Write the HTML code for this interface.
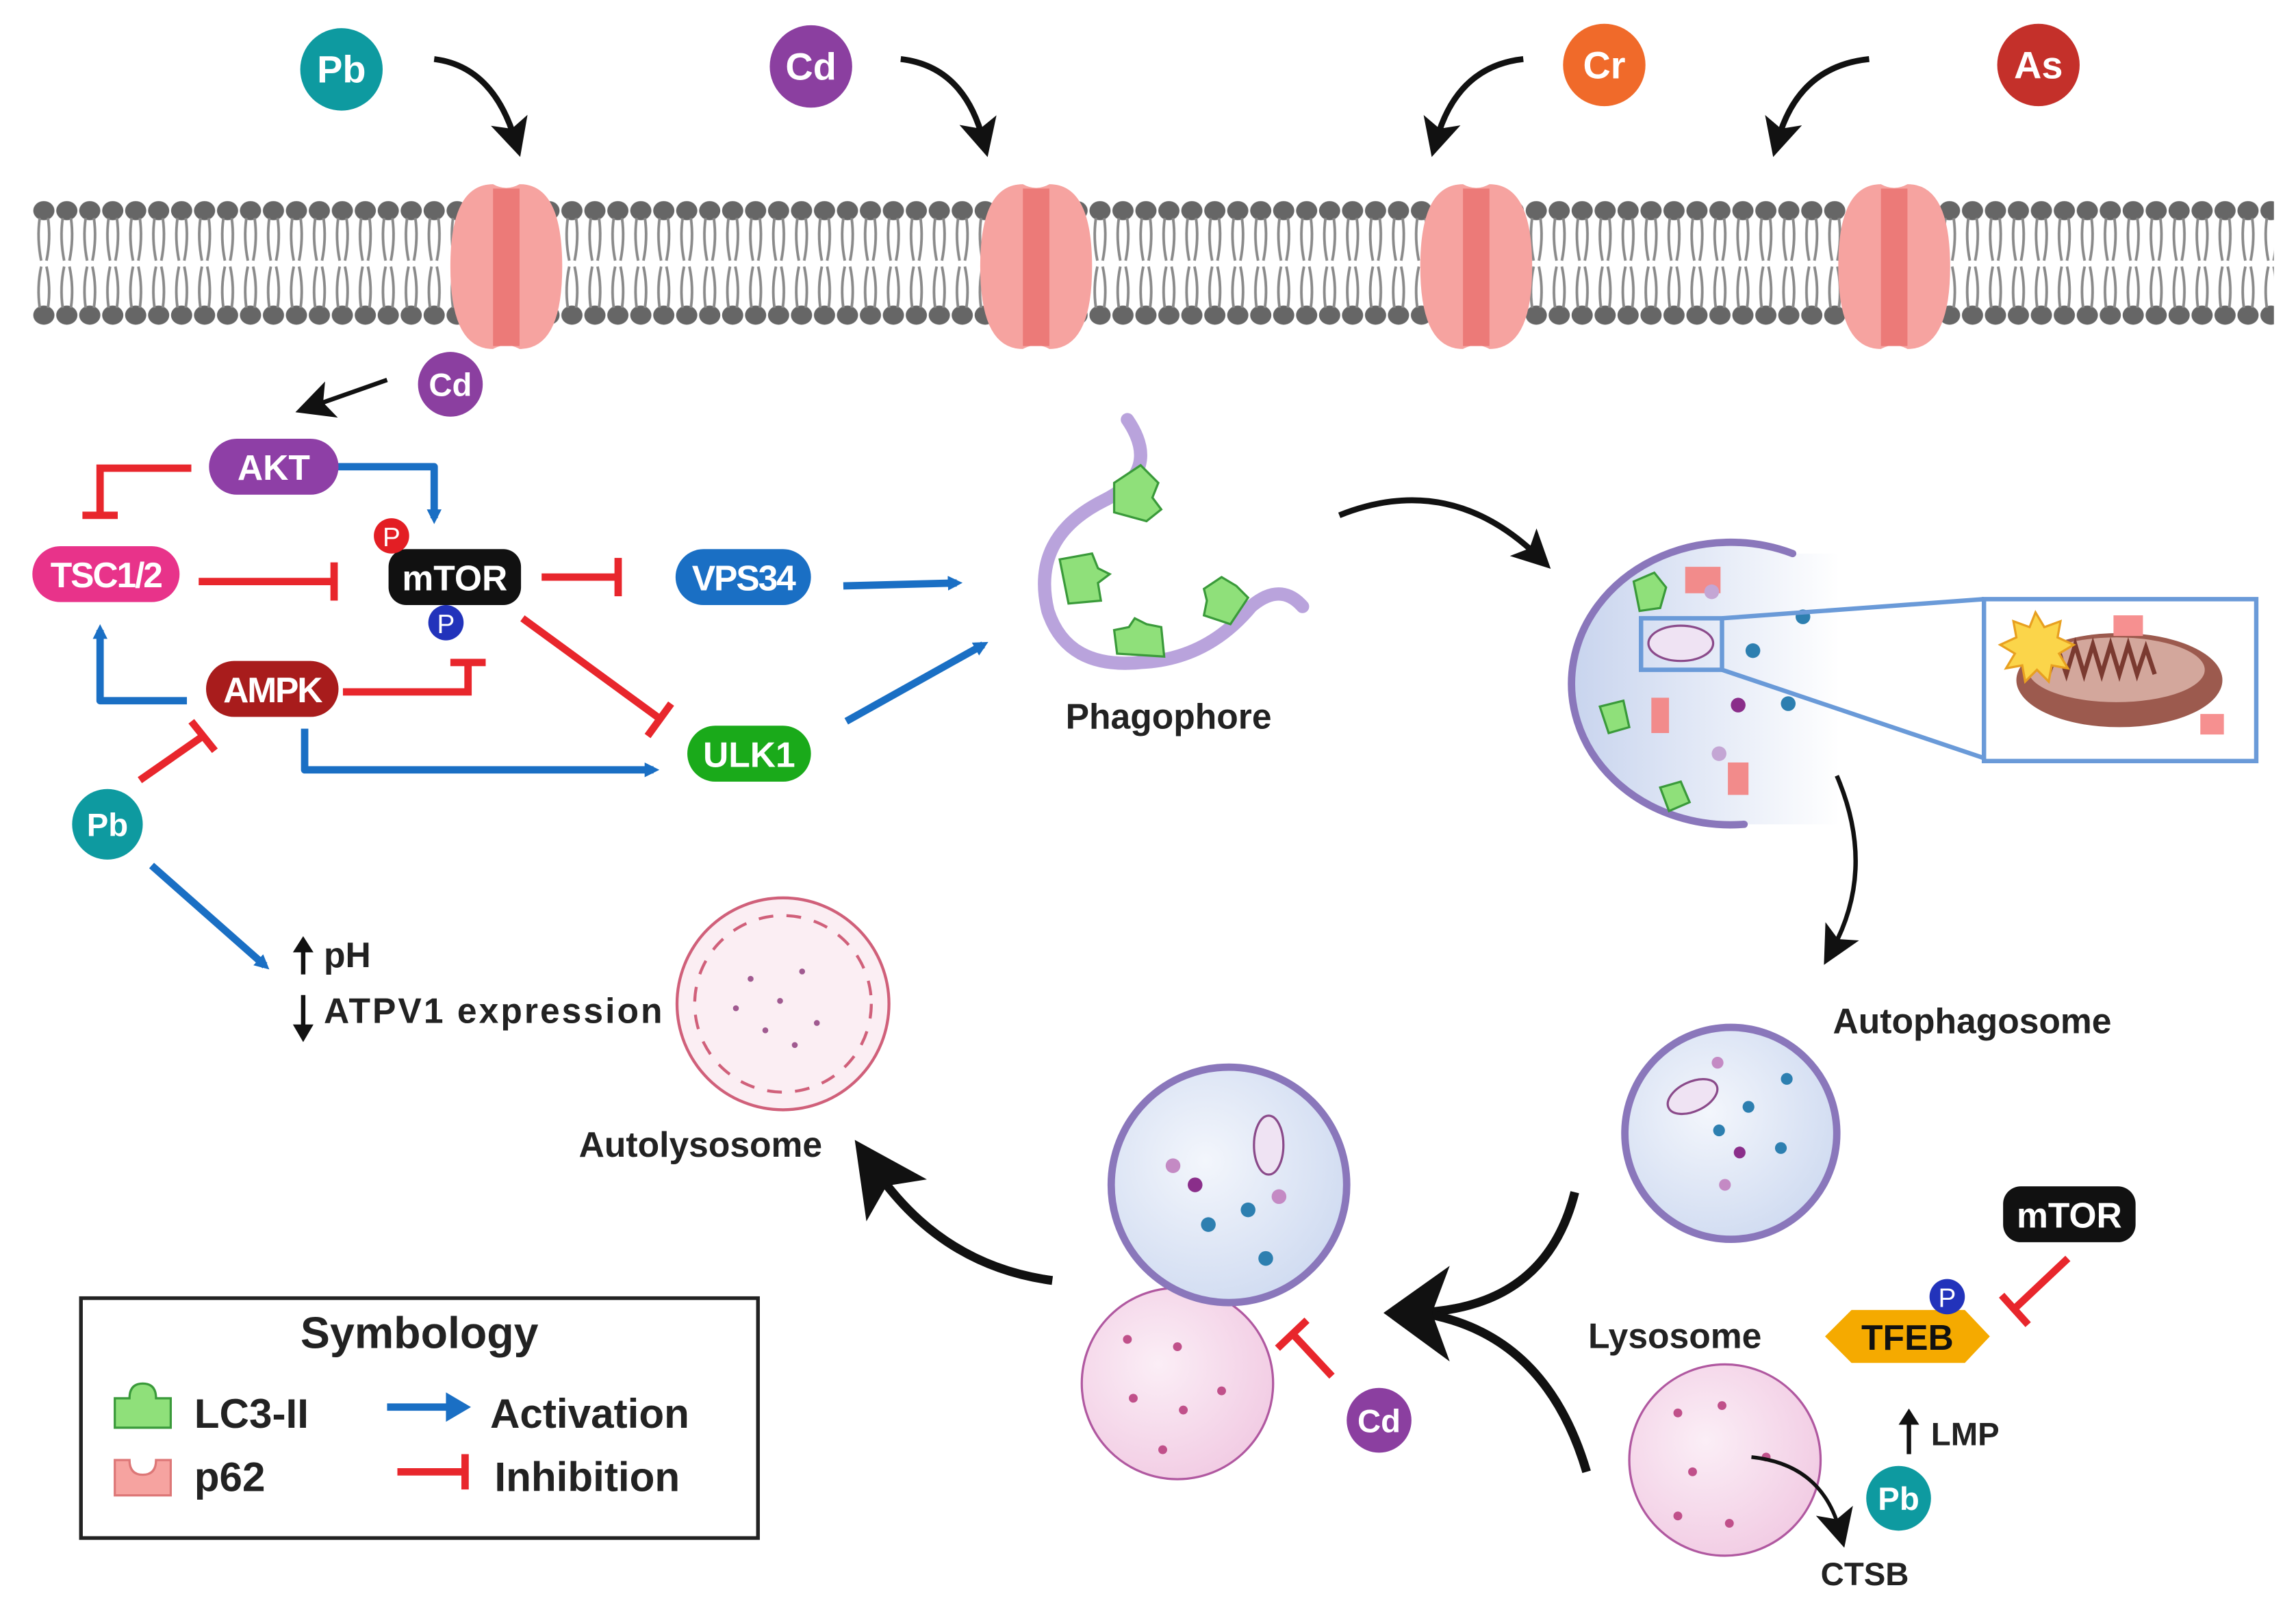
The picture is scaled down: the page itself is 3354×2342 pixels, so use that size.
<!DOCTYPE html>
<html><head><meta charset="utf-8"><style>
html,body{margin:0;padding:0;background:#fff;}
svg{display:block}
text{font-family:"Liberation Sans",Arial,sans-serif;font-weight:bold;}
</style></head><body>
<svg width="3354" height="2342" viewBox="0 0 1560 1089" xmlns="http://www.w3.org/2000/svg">
<defs>
<pattern id="lip" x="22" y="0" width="15.6" height="240" patternUnits="userSpaceOnUse">
<ellipse cx="7.8" cy="143" rx="7.2" ry="6.5" fill="#666"/>
<ellipse cx="7.8" cy="214" rx="7.2" ry="6.5" fill="#666"/>
<path d="M5 148 Q3 162 6 177 M10.6 148 Q12.6 162 9.6 177 M6 181 Q3 195 5 209 M9.6 181 Q12.6 195 10.6 209" stroke="#8a8a8a" stroke-width="1.8" fill="none"/>
</pattern>
<marker id="ab" markerWidth="10" markerHeight="10" refX="6" refY="5" orient="auto" markerUnits="userSpaceOnUse" viewBox="0 0 10 10"><path d="M0 0 L10 5 L0 10 z" fill="#1a6fc4"/></marker>
<marker id="ak" markerWidth="26" markerHeight="26" refX="14" refY="13" orient="auto" markerUnits="userSpaceOnUse" viewBox="0 0 26 26"><path d="M0 0 L26 13 L0 26 L6 13 z" fill="#111"/></marker>
<marker id="akb" markerWidth="50" markerHeight="50" refX="25" refY="25" orient="auto" markerUnits="userSpaceOnUse" viewBox="0 0 50 50"><path d="M0 0 L50 25 L0 50 L12 25 z" fill="#111"/></marker>
<radialGradient id="ves" cx="0.4" cy="0.4" r="0.7"><stop offset="0" stop-color="#f3f6fc"/><stop offset="1" stop-color="#cdd9f0"/></radialGradient>
<linearGradient id="ves2" x1="0" x2="1" y1="0" y2="0"><stop offset="0" stop-color="#c8d4ee"/><stop offset="1" stop-color="#ffffff"/></linearGradient>
<radialGradient id="lys" cx="0.4" cy="0.4" r="0.7"><stop offset="0" stop-color="#fbeef6"/><stop offset="1" stop-color="#f1c9e2"/></radialGradient>
</defs>

<!-- membrane -->
<rect x="22" y="130" width="1523" height="95" fill="url(#lip)"/>
<g fill="#f6a3a0">
<path d="M306 181 Q306 125 335 125 Q344 130 353 125 Q382 125 382 181 Q382 237 353 237 Q344 232 335 237 Q306 237 306 181z"/>
<path d="M666 181 Q666 125 695 125 Q704 130 713 125 Q742 125 742 181 Q742 237 713 237 Q704 232 695 237 Q666 237 666 181z"/>
<path d="M965 181 Q965 125 994 125 Q1003 130 1012 125 Q1041 125 1041 181 Q1041 237 1012 237 Q1003 232 994 237 Q965 237 965 181z"/>
<path d="M1249 181 Q1249 125 1278 125 Q1287 130 1296 125 Q1325 125 1325 181 Q1325 237 1296 237 Q1287 232 1278 237 Q1249 237 1249 181z"/>
</g>
<g fill="#ec7a78">
<rect x="335" y="128" width="18" height="107"/><rect x="695" y="128" width="18" height="107"/>
<rect x="994" y="128" width="18" height="107"/><rect x="1278" y="128" width="18" height="107"/>
</g>

<!-- metals -->
<g font-size="26" fill="#fff" text-anchor="middle">
<circle cx="232" cy="47" r="28" fill="#0e9aa0"/><text x="232" y="56">Pb</text>
<circle cx="551" cy="45" r="28" fill="#8b3fa0"/><text x="551" y="54">Cd</text>
<circle cx="1090" cy="44" r="28" fill="#f06a2a"/><text x="1090" y="53">Cr</text>
<circle cx="1385" cy="44" r="28" fill="#c4302a"/><text x="1385" y="53">As</text>
</g>
<g stroke="#111" stroke-width="4" fill="none" marker-end="url(#ak)">
<path d="M295 40 Q335 45 350 95"/>
<path d="M612 40 Q655 45 668 95"/>
<path d="M1035 40 Q990 45 976 95"/>
<path d="M1270 40 Q1222 45 1208 95"/>
</g>

<circle cx="306" cy="261" r="22" fill="#8b3fa0"/><text x="306" y="269" font-size="22" fill="#fff" text-anchor="middle">Cd</text>
<path d="M263 258 L212 276" stroke="#111" stroke-width="3" marker-end="url(#ak)"/>

<!-- pathway lines -->
<g stroke="#e8262c" stroke-width="5" fill="none">
<path d="M130 318 L68 318 L68 350 M56 350 L80 350"/>
<path d="M135 395 L225 395 M227 382 L227 408"/>
<path d="M368 392 L418 392 M420 379 L420 405"/>
<path d="M355 420 L448 488 M440 500 L456 478"/>
<path d="M233 470 L318 470 L318 452 M306 450 L330 450"/>
<path d="M95 530 L138 500 M130 490 L146 510"/>
<path d="M1405 855 L1370 888 M1360 880 L1378 900"/>
<path d="M905 935 L878 906 M868 916 L888 897"/>
</g>
<g stroke="#1a6fc4" stroke-width="5" fill="none" marker-end="url(#ab)" stroke-linejoin="round">
<path d="M208 317 L295 317 L295 352"/>
<path d="M127 476 L68 476 L68 428"/>
<path d="M207 495 L207 523 L444 523"/>
<path d="M573 398 L650 396"/>
<path d="M575 490 L668 438"/>
<path d="M103 588 L180 656"/>
</g>

<!-- nodes -->
<g font-size="24" fill="#fff" text-anchor="middle">
<rect x="142" y="298" width="88" height="38" rx="19" fill="#8e3fa6"/><text x="186" y="326">AKT</text>
<rect x="22" y="371" width="100" height="38" rx="19" fill="#e8338a"/><text x="72" y="399" letter-spacing="-1">TSC1/2</text>
<rect x="264" y="373" width="90" height="38" rx="12" fill="#111"/><text x="309" y="401">mTOR</text>
<rect x="459" y="373" width="92" height="38" rx="19" fill="#1a6fc4"/><text x="505" y="401" letter-spacing="-1">VPS34</text>
<rect x="140" y="449" width="90" height="38" rx="19" fill="#a81c1c"/><text x="185" y="477" letter-spacing="-1">AMPK</text>
<rect x="467" y="493" width="84" height="38" rx="19" fill="#1aaa1a"/><text x="509" y="521">ULK1</text>
<rect x="1361" y="806" width="90" height="38" rx="12" fill="#111"/><text x="1406" y="834">mTOR</text>
</g>
<g font-size="18" fill="#fff" text-anchor="middle">
<circle cx="266" cy="364" r="12" fill="#e31e24"/><text x="266" y="371" style="font-weight:normal">P</text>
<circle cx="303" cy="423" r="12" fill="#2233bb"/><text x="303" y="430" style="font-weight:normal">P</text>
</g>
<circle cx="73" cy="560" r="24" fill="#0e9aa0"/><text x="73" y="568" font-size="22" fill="#fff" text-anchor="middle">Pb</text>

<text x="220" y="657" font-size="24" fill="#222">pH</text>
<path d="M206 662 L206 645" stroke="#111" stroke-width="3"/><path d="M199 647 L206 636 L213 647z" fill="#111"/>
<text x="220" y="695" font-size="24" fill="#222" textLength="230">ATPV1 expression</text>
<path d="M206 676 L206 698" stroke="#111" stroke-width="3"/><path d="M199 696 L206 708 L213 696z" fill="#111"/>

<!-- autolysosome -->
<circle cx="532" cy="682" r="72" fill="#fbeef3" stroke="#d0607a" stroke-width="2"/>
<circle cx="532" cy="682" r="60" fill="none" stroke="#d0607a" stroke-width="2" stroke-dasharray="10 9"/>
<g fill="#a05a90"><circle cx="510" cy="665" r="2"/><circle cx="530" cy="680" r="2"/><circle cx="545" cy="660" r="2"/><circle cx="520" cy="700" r="2"/><circle cx="555" cy="695" r="2"/><circle cx="500" cy="685" r="2"/><circle cx="540" cy="710" r="2"/></g>
<text x="476" y="786" font-size="24" fill="#222" text-anchor="middle">Autolysosome</text>

<!-- phagophore -->
<path d="M766 285 Q790 320 750 340 Q700 365 712 415 Q725 455 775 450 Q820 448 850 412 Q870 395 885 412" stroke="#b9a3dc" stroke-width="9" fill="none" stroke-linecap="round"/>
<g fill="#8fe07a" stroke="#3a9a3a" stroke-width="1.5">
<path d="M757 328 l18 -12 l12 12 l-4 10 l6 8 l-10 8 l-22 -6z"/>
<path d="M720 380 l22 -4 l4 10 l8 4 l-8 6 l2 12 l-22 2z"/>
<path d="M757 428 l10 -2 l4 -6 l8 4 l10 2 l2 20 l-32 -2z"/>
<path d="M818 400 l12 -8 l10 6 l8 8 l-12 18 l-18 -6 l2 -10z"/>
</g>
<text x="794" y="495" font-size="24" fill="#222" text-anchor="middle">Phagophore</text>

<path d="M910 350 Q985 320 1045 378" stroke="#111" stroke-width="4" fill="none" marker-end="url(#ak)"/>

<!-- forming autophagosome -->
<path d="M1218 376 A108 96 0 1 0 1185 560 L1250 560 L1250 376z" fill="url(#ves2)" stroke="none"/>
<path d="M1218 376 A108 96 0 1 0 1185 560" fill="none" stroke="#8a77bb" stroke-width="5" stroke-linecap="round"/>
<g fill="#8fe07a" stroke="#3a9a3a" stroke-width="1.5">
<path d="M1110 395 l14 -6 l8 10 l-4 14 l-14 2z"/><path d="M1087 480 l16 -4 l4 18 l-14 4z"/><path d="M1128 535 l14 -4 l6 14 l-14 6z"/>
</g>
<g fill="#f28b8b"><path d="M1145 385 h24 v18 h-24z"/><path d="M1122 474 h12 v24 h-12z"/><path d="M1174 518 h14 v22 h-14z"/></g>
<g fill="#2d7fb0"><circle cx="1191" cy="442" r="5"/><circle cx="1225" cy="419" r="5"/><circle cx="1215" cy="478" r="5"/></g>
<circle cx="1181" cy="479" r="5" fill="#8a2e8a"/><circle cx="1163" cy="402" r="5" fill="#c4a6d4"/><circle cx="1168" cy="512" r="5" fill="#c4a6d4"/>
<ellipse cx="1142" cy="437" rx="22" ry="12" fill="#efe3f3" stroke="#8a4a8a" stroke-width="1.5"/>
<g stroke="#6a9ad8" stroke-width="3" fill="none">
<rect x="1115" y="420" width="55" height="35"/>
<path d="M1170 420 L1348 407 M1170 455 L1348 515"/>
<rect x="1348" y="407" width="185" height="110" fill="#fff"/>
</g>
<ellipse cx="1440" cy="462" rx="70" ry="32" fill="#9c5a4e"/>
<ellipse cx="1438" cy="455" rx="60" ry="22" fill="#d3a79c"/>
<path d="M1392 458 l6 -18 l6 18 l6 -20 l6 20 l6 -20 l6 20 l6 -20 l6 20 l6 -20 l6 20 l6 -18 l6 18" stroke="#7a3a30" stroke-width="3" fill="none"/>
<path d="M1383 416 l6 10 l11 -4 l-2 11 l11 5 l-10 6 l6 10 l-11 -2 l-2 11 l-8 -8 l-8 8 l-2 -11 l-11 2 l6 -10 l-10 -6 l11 -5 l-2 -11 l11 4z" fill="#fbd54a" stroke="#e8a020" stroke-width="1.5"/>
<path d="M1436 418 h20 v14 h-20z M1495 485 h16 v14 h-16z" fill="#f69090"/>

<path d="M1248 527 Q1275 590 1245 645" stroke="#111" stroke-width="3" fill="none" marker-end="url(#ak)"/>
<text x="1340" y="702" font-size="24" fill="#222" text-anchor="middle">Autophagosome</text>

<!-- autophagosome -->
<circle cx="1176" cy="770" r="72" fill="url(#ves)" stroke="#8a77bb" stroke-width="5"/>
<g fill="#2d7fb0"><circle cx="1214" cy="733" r="4"/><circle cx="1188" cy="752" r="4"/><circle cx="1210" cy="780" r="4"/><circle cx="1168" cy="768" r="4"/></g>
<g fill="#c48ac4"><circle cx="1167" cy="722" r="4"/><circle cx="1172" cy="805" r="4"/><circle cx="1182" cy="783" r="4" fill="#8a2e8a"/></g>
<ellipse cx="1150" cy="745" rx="18" ry="10" fill="#efe3f3" stroke="#8a4a8a" stroke-width="1.5" transform="rotate(-25 1150 745)"/>

<!-- big arrows -->
<path d="M1070 810 Q1050 890 960 892" stroke="#111" stroke-width="6" fill="none"/>
<path d="M1078 1000 Q1050 905 965 892" stroke="#111" stroke-width="6" fill="none"/>
<path d="M940 892 L985 860 L973 892 L985 925z" fill="#111"/>
<path d="M715 870 Q640 860 595 795" stroke="#111" stroke-width="6" fill="none" marker-end="url(#akb)"/>

<!-- fusing vesicles -->
<circle cx="800" cy="940" r="65" fill="url(#lys)" stroke="#b058a0" stroke-width="1.5"/>
<circle cx="835" cy="805" r="80" fill="url(#ves)" stroke="#8a77bb" stroke-width="5"/>
<g fill="#2d7fb0"><circle cx="821" cy="832" r="5"/><circle cx="848" cy="822" r="5"/><circle cx="860" cy="855" r="5"/></g>
<g fill="#c48ac4"><circle cx="797" cy="792" r="5"/><circle cx="869" cy="813" r="5"/><circle cx="812" cy="805" r="5" fill="#8a2e8a"/></g>
<ellipse cx="862" cy="778" rx="10" ry="20" fill="#efe3f3" stroke="#8a4a8a" stroke-width="1.5"/>
<g fill="#c0508a"><circle cx="766" cy="910" r="3"/><circle cx="800" cy="915" r="3"/><circle cx="770" cy="950" r="3"/><circle cx="804" cy="958" r="3"/><circle cx="830" cy="945" r="3"/><circle cx="790" cy="985" r="3"/></g>
<circle cx="937" cy="965" r="22" fill="#8b3fa0"/><text x="937" y="973" font-size="22" fill="#fff" text-anchor="middle">Cd</text>

<!-- lysosome -->
<text x="1138" y="916" font-size="24" fill="#222" text-anchor="middle">Lysosome</text>
<circle cx="1172" cy="992" r="65" fill="url(#lys)" stroke="#b058a0" stroke-width="1.5"/>
<g fill="#c0508a"><circle cx="1140" cy="960" r="3"/><circle cx="1170" cy="955" r="3"/><circle cx="1150" cy="1000" r="3"/><circle cx="1200" cy="990" r="3"/><circle cx="1140" cy="1030" r="3"/><circle cx="1175" cy="1035" r="3"/></g>
<path d="M1190 990 Q1238 995 1250 1040" stroke="#111" stroke-width="2.5" fill="none" marker-end="url(#ak)"/>
<path d="M1240 908 L1258 890 L1335 890 L1352 908 L1335 926 L1258 926z" fill="#f5aa00"/>
<text x="1296" y="917" font-size="24" fill="#111" text-anchor="middle">TFEB</text>
<circle cx="1323" cy="881" r="12" fill="#2233bb"/><text x="1323" y="888" font-size="18" fill="#fff" text-anchor="middle" style="font-weight:normal">P</text>
<path d="M1297 988 L1297 966" stroke="#111" stroke-width="3"/><path d="M1290 968 L1297 957 L1304 968z" fill="#111"/>
<text x="1312" y="982" font-size="22" fill="#222">LMP</text>
<circle cx="1290" cy="1018" r="22" fill="#0e9aa0"/><text x="1290" y="1026" font-size="22" fill="#fff" text-anchor="middle">Pb</text>
<text x="1267" y="1077" font-size="22" fill="#222" text-anchor="middle">CTSB</text>

<!-- legend -->
<rect x="55" y="882" width="460" height="163" fill="#fff" stroke="#222" stroke-width="2.5"/>
<text x="285" y="916" font-size="30" fill="#222" text-anchor="middle">Symbology</text>
<path d="M78 950 h10 q0 -10 9 -10 q9 0 9 10 h10 v20 h-38z" fill="#8fe07a" stroke="#3a9a3a" stroke-width="1.5"/>
<path d="M78 992 h10 q0 10 9 10 q9 0 9 -10 h10 v24 h-38z" fill="#f6a3a0" stroke="#d77" stroke-width="1.5"/>
<text x="132" y="970" font-size="28" fill="#222">LC3-II</text>
<text x="132" y="1013" font-size="28" fill="#222">p62</text>
<path d="M263 956 L305 956" stroke="#1a6fc4" stroke-width="5"/><path d="M303 946 L320 956 L303 966z" fill="#1a6fc4"/>
<path d="M270 1000 L316 1000 M316 988 L316 1012" stroke="#e8262c" stroke-width="5"/>
<text x="333" y="970" font-size="28" fill="#222">Activation</text>
<text x="336" y="1013" font-size="28" fill="#222">Inhibition</text>
</svg>
</body></html>
